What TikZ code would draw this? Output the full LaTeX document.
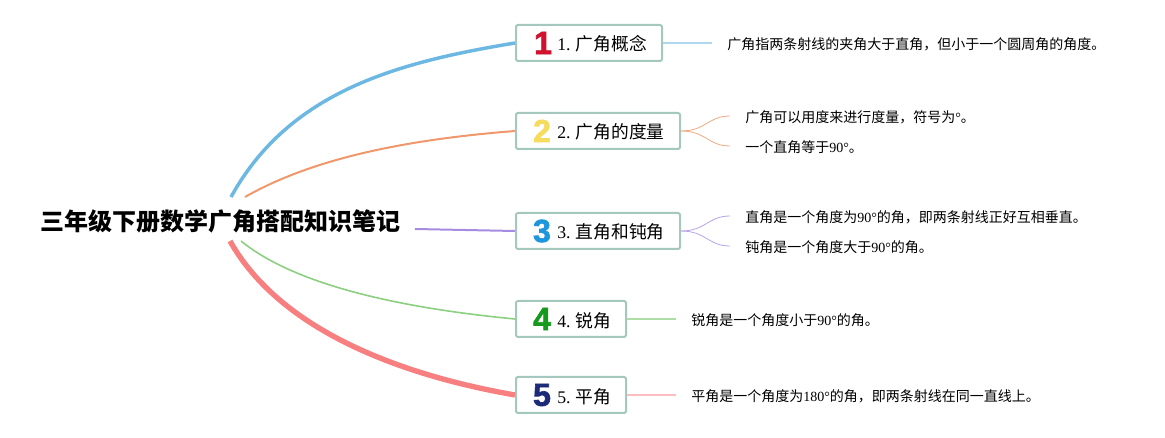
\documentclass[tikz,border=0pt]{standalone}
\usepackage{fontspec}
\setmainfont{Noto Sans CJK SC}
\newfontfamily\latfont{Liberation Serif}
\newfontfamily\iconfont[BoldFeatures={FakeBold=2}]{Liberation Sans}
\newcommand{\lat}[1]{{\latfont #1}}
\usetikzlibrary{positioning}
\definecolor{cBlue}{HTML}{6DB8E3}
\definecolor{cOrange}{HTML}{F0986B}
\definecolor{cPurple}{HTML}{A68CE0}
\definecolor{cGreen}{HTML}{8CCF80}
\definecolor{cRed}{HTML}{F77F7F}
\definecolor{cBorder}{HTML}{A5C8BE}
\definecolor{iconRed}{HTML}{D0122F}
\definecolor{iconYellow}{HTML}{F5DC5F}
\definecolor{iconBlue}{HTML}{1E96DC}
\definecolor{iconGreen}{HTML}{169A1E}
\definecolor{iconNavy}{HTML}{1C2B78}
\tikzset{%
	rootnode/.style = {inner sep=0pt, font=\fontsize{18}{20}\selectfont\bfseries},
	topic/.style    = {draw=cBorder, fill=white, line width=1.5pt, rounded corners=1.5pt, minimum height=27pt, inner sep=0pt, anchor=west, font=\fontsize{13.3}{16}\selectfont},
	numicon/.style  = {inner sep=0pt, font=\fontsize{24}{24}\selectfont\iconfont\bfseries},
	topiclabel/.style = {inner sep=0pt, anchor=west, font=\fontsize{13.3}{16}\selectfont},
	leaf/.style     = {anchor=west, inner xsep=11.25pt, inner ysep=0pt, text height=9.5pt, text depth=0pt, font=\fontsize{10.5}{13}\selectfont},
}

\begin{document}
\begin{tikzpicture}[x=0.75pt,y=-0.75pt]
	\useasboundingbox (0,0) rectangle (1165,438);
	
	% root
	\node[rootnode] (root) at (220.5,221) {三年级下册数学广角搭配知识笔记};
	\coordinate (r1) at (231,197);
	\coordinate (r2) at (245,197);
	\coordinate (r3) at (415,229);
	\coordinate (r4) at (241,241);
	\coordinate (r5) at (230,241);
	
	% topics
	\node[topic, minimum width=109.5pt] (t1) at (515,43) {};
	\node[topic, minimum width=123pt] (t2) at (515,131) {};
	\node[topic, minimum width=123pt] (t3) at (515,231) {};
	\node[topic, minimum width=82.5pt] (t4) at (515,319) {};
	\node[topic, minimum width=82.5pt] (t5) at (515,395) {};
	
	\node[numicon, text=iconRed] (n1) at (543,43) {1};
	\node[numicon, text=iconYellow] (n2) at (542,131) {2};
	\node[numicon, text=iconBlue] (n3) at (542,231) {3};
	\node[numicon, text=iconGreen] (n4) at (542,319) {4};
	\node[numicon, text=iconNavy] (n5) at (542,395) {5};
	
	\node[topiclabel] (l1) at (557,44) {\lat{1.} 广角概念};
	\node[topiclabel] (l2) at (557,132) {\lat{2.} 广角的度量};
	\node[topiclabel] (l3) at (557,232) {\lat{3.} 直角和钝角};
	\node[topiclabel] (l4) at (557,321) {\lat{4.} 锐角};
	\node[topiclabel] (l5) at (557,397) {\lat{5.} 平角};
	
	% leaves
	\node[leaf] (a1) at (712,43) {广角指两条射线的夹角大于直角，但小于一个圆周角的角度。};
	\node[leaf] (b1) at (730,116) {广角可以用度来进行度量，符号为\lat{°}。};
	\node[leaf] (b2) at (730,146) {一个直角等于\lat{90°}。};
	\node[leaf] (c1) at (730,216) {直角是一个角度为\lat{90°}的角，即两条射线正好互相垂直。};
	\node[leaf] (c2) at (730,246) {钝角是一个角度大于\lat{90°}的角。};
	\node[leaf] (d1) at (676,319) {锐角是一个角度小于\lat{90°}的角。};
	\node[leaf] (e1) at (676,395) {平角是一个角度为\lat{180°}的角，即两条射线在同一直线上。};
	
	% branches
	\draw[cBlue, line width=2.6pt] (r1) .. controls (290,90) and (400,62) .. (t1.west);
	\draw[cOrange, line width=1.5pt] (r2) .. controls (310,160) and (400,140) .. (t2.west);
	\draw[cPurple, line width=1.5pt] (r3) -- (t3.west);
	\draw[cGreen, line width=1.2pt] (r4) .. controls (295,285) and (400,308) .. (t4.west);
	\draw[cRed, line width=4pt] (r5) .. controls (280,330) and (400,375) .. (t5.west);
	
	\draw[cBlue!55, line width=1pt] (t1.east) -- (a1.west);
	\draw[cOrange!85, line width=.6pt] (t2.east) .. controls +(25,0) and +(-22,0) .. (b1.west);
	\draw[cOrange!85, line width=.6pt] (t2.east) .. controls +(25,0) and +(-22,0) .. (b2.west);
	\draw[cPurple!80, line width=.6pt] (t3.east) .. controls +(25,0) and +(-22,0) .. (c1.west);
	\draw[cPurple!80, line width=.6pt] (t3.east) .. controls +(25,0) and +(-22,0) .. (c2.west);
	\draw[cGreen!70, line width=1pt] (t4.east) -- (d1.west);
	\draw[cRed!50, line width=1pt] (t5.east) -- (e1.west);
\end{tikzpicture}
\end{document}
